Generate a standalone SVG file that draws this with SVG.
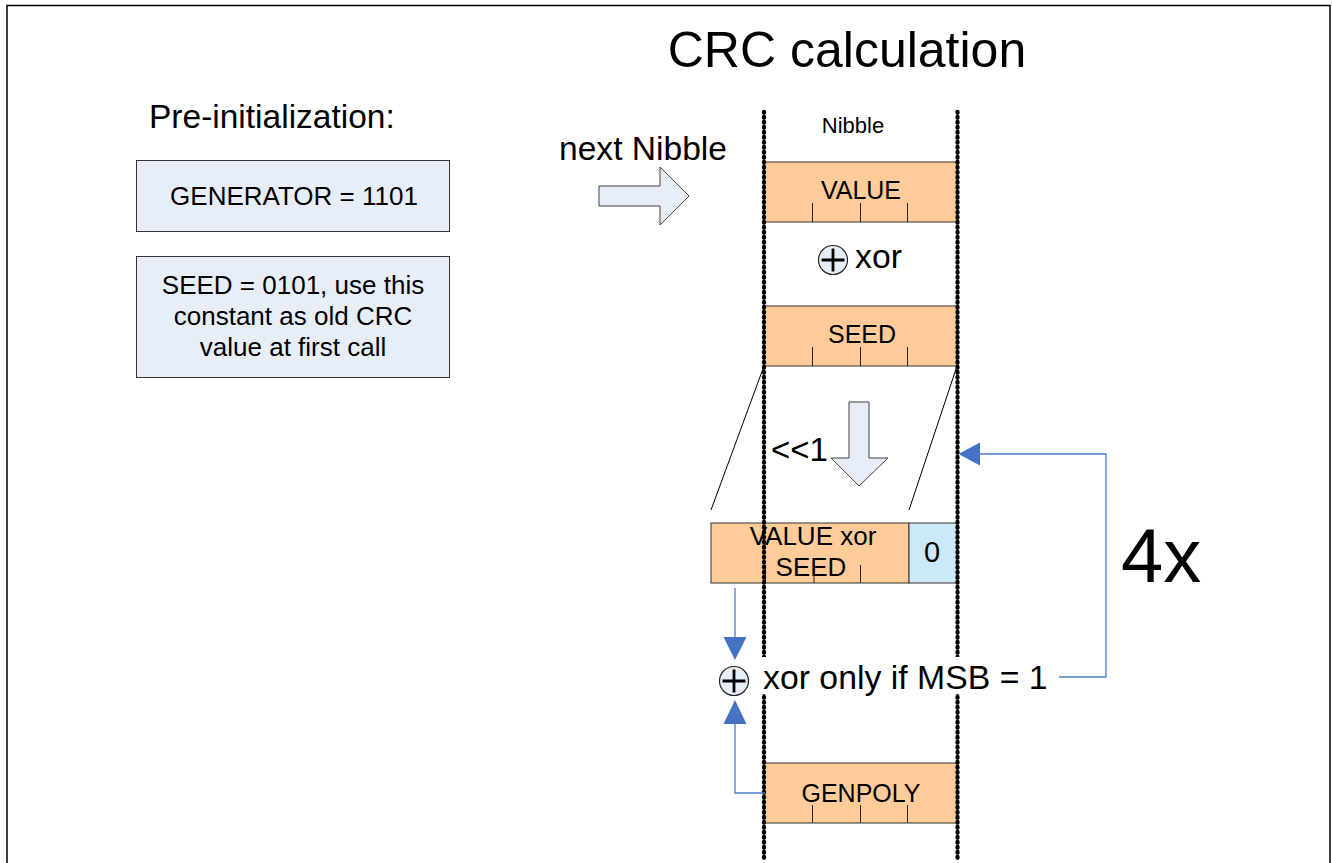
<svg xmlns="http://www.w3.org/2000/svg" width="1332" height="863" viewBox="0 0 1332 863">
<style>
text{font-family:"Liberation Sans",Arial,sans-serif;fill:#000}
.t25{font-size:25px}
.t26{font-size:26px}
.t33{font-size:33.8px}
.c{text-anchor:middle}
.info{fill:#E8EEF7;stroke:#333;stroke-width:1}
.reg{fill:#FFCC99;stroke:#333;stroke-width:1}
.tick{stroke:#222;stroke-width:1}
.bigarrow{fill:#E8EEF8;stroke:#404040;stroke-width:1}
.dots{stroke:#000;stroke-width:4.3;stroke-linecap:round;stroke-dasharray:0.8 4.2;fill:none}
.blue{stroke:#4A7EC7;stroke-width:1.3;fill:none}
.head{fill:#4472C4}
.xc{fill:#E8EEF8;stroke:#222;stroke-width:1.2}
.xp{stroke:#000;stroke-width:2.8}
.thin{stroke:#000;stroke-width:1}
</style>
<rect width="1332" height="863" fill="#fff"/>
<path d="M7,863 V5.5 H1330 V863" fill="none" stroke="#000" stroke-width="1.5"/>

<g id="title"><text x="847" y="67" style="font-size:50px" class="c">CRC calculation</text></g>
<g id="preinit"><text x="149" y="128" style="font-size:33.5px">Pre-initialization:</text></g>
<g id="generator">
<rect class="info" x="136.5" y="160.5" width="313" height="71"/>
<text class="t26 c" x="294" y="205">GENERATOR = 1101</text>
</g>
<g id="seed-info">
<rect class="info" x="136.5" y="256.5" width="313" height="121"/>
<text class="t26 c" x="293" y="294">SEED = 0101, use this</text>
<text class="t26 c" x="293" y="325">constant as old CRC</text>
<text class="t26 c" x="293" y="356">value at first call</text>
</g>

<g id="next-nibble">
<text x="559" y="160" style="font-size:33.6px">next Nibble</text>
<polygon class="bigarrow" points="599,186 660,186 660,167 689,196 660,225 660,206 599,206"/>
</g>
<g id="nibble-label"><text class="c" x="853" y="133" style="font-size:22px">Nibble</text></g>

<g id="value">
<rect class="reg" x="764" y="162" width="193" height="60"/>
<path class="tick" d="M812.5,203V222M860.5,203V222M907.5,203V222"/>
<text class="t25 c" x="861" y="199">VALUE</text>
</g>
<g id="xor1">
<circle class="xc" cx="833" cy="260" r="14.5"/>
<path class="xp" d="M821.5,260H844.5M833,248.5V271.5"/>
<text class="t33" x="855" y="268">xor</text>
</g>
<g id="seed">
<rect class="reg" x="764" y="306" width="193" height="60"/>
<path class="tick" d="M812.5,347V366M860.5,347V366M907.5,347V366"/>
<text class="t25 c" x="862" y="343">SEED</text>
</g>
<g id="shift">
<polygon class="bigarrow" points="849,402 869,402 869,458 888,458 859,486 831,458 849,458"/>
<text x="771" y="461" style="font-size:33px">&lt;&lt;1</text>
</g>
<g id="shifted">
<rect class="reg" x="711" y="523" width="198" height="60"/>
<rect x="909" y="523" width="48" height="60" fill="#CCE9FA" stroke="#333" stroke-width="1"/>
<path class="tick" d="M765.5,565V583M814,565V583M860.5,565V583"/>
<text class="t26 c" x="813" y="545">VALUE xor</text>
<text class="t26 c" x="811" y="576">SEED</text>
<text class="c" x="932" y="562" style="font-size:29px">0</text>
</g>
<g id="genpoly">
<rect class="reg" x="764" y="763" width="193" height="60"/>
<path class="tick" d="M812.5,805V823M860.5,805V823M907.5,805V823"/>
<text class="t25 c" x="861" y="802">GENPOLY</text>
</g>

<g id="columns">
<line class="dots" x1="764" y1="112" x2="764" y2="858"/>
<line class="dots" x1="957.5" y1="112" x2="957.5" y2="858"/>
</g>

<g id="connectors">
<line class="thin" x1="764" y1="366" x2="711" y2="510"/>
<line class="thin" x1="957" y1="366" x2="909" y2="510"/>
<polyline class="blue" points="735,588 735,637"/>
<polygon class="head" points="723.5,637 746.5,637 735,660"/>
<polyline class="blue" points="765,793 735,793 735,723"/>
<polygon class="head" points="723.5,724 746.5,724 735,700"/>
<polyline class="blue" points="1059,677 1106,677 1106,454 979,454"/>
<polygon class="head" points="980,442.5 958.5,454 980,465.5"/>
</g>

<g id="xor2">
<rect x="751" y="657" width="300" height="37" fill="#fff"/>
<circle class="xc" cx="734" cy="681" r="14.5"/>
<path class="xp" d="M722.5,681H745.5M734,669.5V692.5"/>
<text class="t33" x="763" y="689">xor only if MSB = 1</text>
</g>
<g id="repeat"><text x="1121" y="582" style="font-size:76px">4x</text></g>
</svg>
